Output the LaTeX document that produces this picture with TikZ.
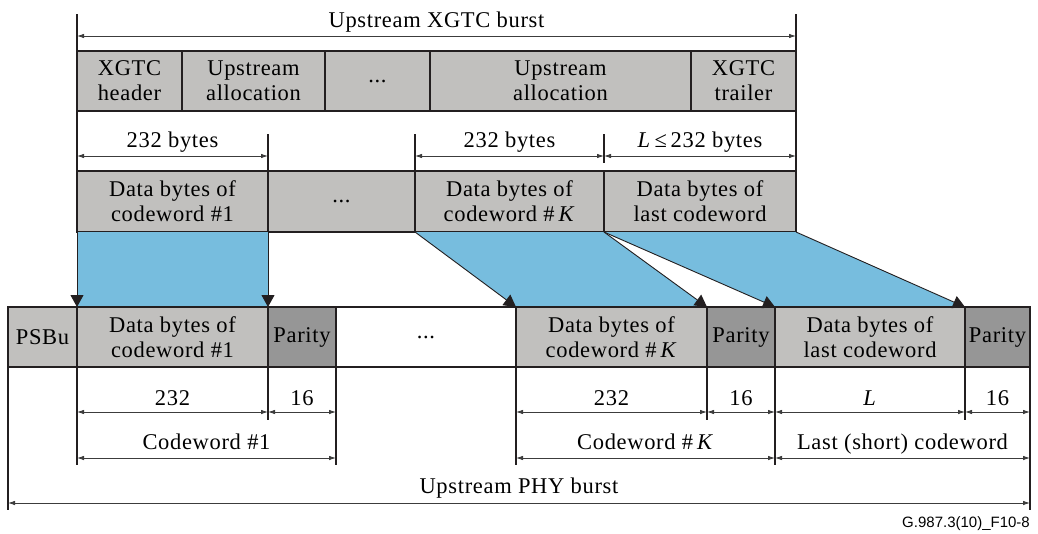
\documentclass[tikz,border=0pt]{standalone}
\usepackage{fontspec}
\setmainfont{Liberation Serif}[LetterSpace=3]
\newfontfamily\labelfont{Liberation Sans}
\usetikzlibrary{arrows.meta}
\definecolor{boxgray}{RGB}{193,192,190}
\definecolor{paritygray}{RGB}{150,150,150}
\definecolor{flowblue}{RGB}{119,189,222}
\definecolor{linec}{RGB}{35,31,32}
\definecolor{dimc}{RGB}{60,60,60}
\newcommand{\kvar}{\#\hspace{4pt}\textit{K}}
\begin{document}
\begin{tikzpicture}[x=1pt,y=-1pt,
  cell/.style={draw=linec,line width=1.5pt,inner sep=0pt,outer sep=0pt,align=center,
    font=\fontsize{22.5}{25}\selectfont,minimum height=60pt},
  gcell/.style={cell,fill=boxgray},
  pcell/.style={cell,fill=paritygray},
  wcell/.style={cell,fill=white},
  lbl/.style={font=\fontsize{22.5}{25}\selectfont,anchor=base,inner sep=0pt},
  dimline/.style={draw=dimc,line width=0.8pt,{Latex[length=7pt,width=4.5pt]}-{Latex[length=7pt,width=4.5pt]}},
  tickline/.style={draw=linec,line width=1.5pt},
  flow/.style={draw=linec,line width=0.9pt,-{Triangle[length=12pt,width=13pt]}},
]
\useasboundingbox (0,0) rectangle (1038,533);

% top row
\node[gcell,minimum width=105pt] (xh)  at (129.5,81) {XGTC\\header};
\node[gcell,minimum width=143pt] (ua1) at (253.5,81) {Upstream\\allocation};
\node[gcell,minimum width=105pt] (dt1) at (377.5,81) {...};
\node[gcell,minimum width=261pt] (ua2) at (560.5,81) {Upstream\\allocation};
\node[gcell,minimum width=105pt] (xt)  at (743.5,81) {XGTC\\trailer};

% data row
\node[gcell,minimum width=191pt,minimum height=61pt] (d1) at (172.5,201.5) {Data bytes of\\codeword \#1};
\node[gcell,minimum width=147pt,minimum height=61pt] (dd) at (341.5,201.5) {...};
\node[gcell,minimum width=189pt,minimum height=61pt] (dk) at (509.5,201.5) {Data bytes of\\codeword \kvar};
\node[gcell,minimum width=192pt,minimum height=61pt] (dl) at (700,201.5) {Data bytes of\\last codeword};

% blue mapping areas
\fill[flowblue] (d1.south west) -- (d1.south east) -- (268,307) -- (77,307) -- cycle;
\fill[flowblue] (dk.south west) -- (dk.south east) -- (707,307) -- (516,307) -- cycle;
\fill[flowblue] (dl.south west) -- (dl.south east) -- (965,307) -- (775,307) -- cycle;

% bottom row
\node[gcell,minimum width=69pt]  (ps) at (42.5,337) {PSBu};
\node[gcell,minimum width=191pt] (b1) at (172.5,337) {Data bytes of\\codeword \#1};
\node[pcell,minimum width=68pt]  (p1) at (302,337) {Parity};
\node[wcell,minimum width=180pt] (bd) at (426,337) {...};
\node[gcell,minimum width=191pt] (bk) at (611.5,337) {Data bytes of\\codeword \kvar};
\node[pcell,minimum width=68pt]  (pk) at (741,337) {Parity};
\node[gcell,minimum width=190pt] (bl) at (870,337) {Data bytes of\\last codeword};
\node[pcell,minimum width=65pt]  (pl) at (997.5,337) {Parity};

% mapping arrows
\draw[flow] (d1.south west) -- (b1.north west);
\draw[flow] (d1.south east) -- (b1.north east);
\draw[flow] (dk.south west) -- (bk.north west);
\draw[flow] (dk.south east) -- (bk.north east);
\draw[flow] (dl.south west) -- (bl.north west);
\draw[flow] (dl.south east) -- (bl.north east);

% top dimension
\coordinate (tl) at (77,14);
\coordinate (tr) at (796,14);
\draw[tickline] (tl) -- (xh.north west);
\draw[tickline] (tr) -- (xt.north east);
\draw[tickline] (xh.south west) -- (d1.north west);
\draw[tickline] (xt.south east) -- (dl.north east);
\coordinate (xa) at (77,36);
\coordinate (xb) at (796,36);
\draw[dimline] (xa) -- (xb);
\node[lbl] (xlab) at (436.5,27) {Upstream XGTC burst};

\coordinate (t268) at (268,134);
\coordinate (t415) at (415,134);
\coordinate (t604a) at (604,134);
\coordinate (t604b) at (604,163);
\draw[tickline] (t268) -- (d1.north east);
\draw[tickline] (t415) -- (dk.north west);
\draw[tickline] (t604a) -- (t604b);
\coordinate (ba1) at (77,156);
\coordinate (ba2) at (268,156);
\coordinate (ba3) at (415,156);
\coordinate (ba4) at (604,156);
\coordinate (ba5) at (796,156);
\draw[dimline] (ba1) -- (ba2);
\draw[dimline] (ba3) -- (ba4);
\draw[dimline] (ba4) -- (ba5);
\node[lbl] (bl1) at (172.5,147) {232 bytes};
\node[lbl] (bl2) at (509.5,147) {232 bytes};
\node[lbl] (bl3) at (700,147) {\textit{L}\,≤\,232 bytes};

% bottom dimensions
\coordinate (v8) at (8,510);
\coordinate (v77) at (77,465);
\coordinate (v268) at (268,420);
\coordinate (v336) at (336,465);
\coordinate (v516) at (516,465);
\coordinate (v707) at (707,420);
\coordinate (v775) at (775,465);
\coordinate (v965) at (965,420);
\coordinate (v1030) at (1030,510);
\draw[tickline] (ps.south west) -- (v8);
\draw[tickline] (b1.south west) -- (v77);
\draw[tickline] (b1.south east) -- (v268);
\draw[tickline] (p1.south east) -- (v336);
\draw[tickline] (bk.south west) -- (v516);
\draw[tickline] (bk.south east) -- (v707);
\draw[tickline] (pk.south east) -- (v775);
\draw[tickline] (bl.south east) -- (v965);
\draw[tickline] (pl.south east) -- (v1030);

\coordinate (r1) at (77,412);
\coordinate (r2) at (268,412);
\coordinate (r3) at (336,412);
\coordinate (r4) at (516,412);
\coordinate (r5) at (707,412);
\coordinate (r6) at (775,412);
\coordinate (r7) at (965,412);
\coordinate (r8) at (1030,412);
\draw[dimline] (r1) -- (r2);
\draw[dimline] (r2) -- (r3);
\draw[dimline] (r4) -- (r5);
\draw[dimline] (r5) -- (r6);
\draw[dimline] (r6) -- (r7);
\draw[dimline] (r7) -- (r8);
\node[lbl] (n1) at (172.5,405) {232};
\node[lbl] (n2) at (302,405) {16};
\node[lbl] (n3) at (611.5,405) {232};
\node[lbl] (n4) at (741,405) {16};
\node[lbl] (n5) at (870,405) {\textit{L}};
\node[lbl] (n6) at (997.5,405) {16};

\coordinate (c1) at (77,458);
\coordinate (c2) at (336,458);
\coordinate (c3) at (516,458);
\coordinate (c4) at (775,458);
\coordinate (c5) at (1030,458);
\draw[dimline] (c1) -- (c2);
\draw[dimline] (c3) -- (c4);
\draw[dimline] (c4) -- (c5);
\node[lbl] (cw1) at (206.5,449) {Codeword \#1};
\node[lbl] (cwk) at (645.5,449) {Codeword \kvar};
\node[lbl] (cwl) at (902.5,449) {Last (short) codeword};

\coordinate (p1a) at (8,503);
\coordinate (p1b) at (1030,503);
\draw[dimline] (p1a) -- (p1b);
\node[lbl] (phy) at (519,493) {Upstream PHY burst};

\node[font=\labelfont\fontsize{15}{17}\selectfont,anchor=base east,inner sep=0pt] (fig) at (1030,527) {G.987.3(10)\_F10-8};
\end{tikzpicture}
\end{document}
